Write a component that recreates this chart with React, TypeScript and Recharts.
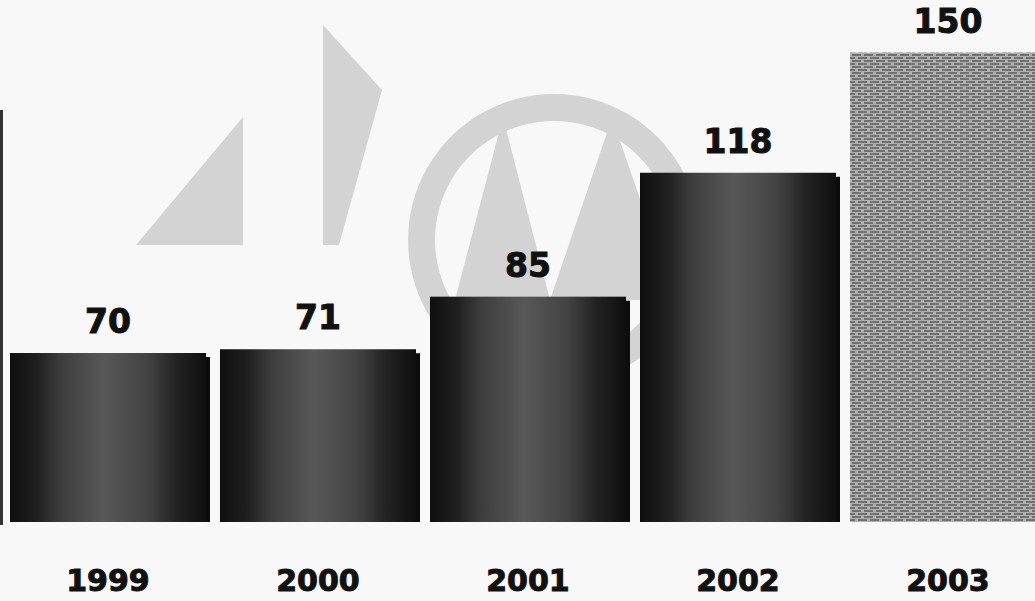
import React from 'react';
import { Bar, BarChart, LabelList, XAxis, YAxis } from 'recharts';

// yearly totals, last year is the projected one (hatched bar)
const years = ['1999', '2000', '2001', '2002', '2003'];
const values = [70, 71, 85, 118, 150];
const projected = [false, false, false, false, true];

const data = years.map((year, i) => ({ year, value: values[i], projected: projected[i] }));

const ShadowBar = (props: any) => {
  const { x, y, width, height, payload } = props;
  const fill = payload && payload.projected ? 'url(#brick)' : 'url(#darkBar)';
  return (
    <g>
      <rect x={x + 4} y={y + 4} width={width} height={height} fill="#0d0d0d" />
      <rect x={x} y={y} width={width} height={height} fill={fill} />
    </g>
  );
};

const YearTick = (props: any) => {
  const { x, y, payload } = props;
  return (
    <text
      x={x}
      y={y + 69}
      textAnchor="middle"
      fill="#111"
      stroke="#111"
      strokeWidth={1}
      fontSize={30}
      fontWeight="bold"
      fontFamily="DejaVu Sans"
    >
      {payload.value}
    </text>
  );
};

// faint logo in the background
const Watermark = () => (
  <svg width={1035} height={601} style={{ position: 'absolute', left: 0, top: 0 }}>
    <g fill="#d3d3d3">
      <polygon points="136,245 243,117 243,245" />
      <polygon points="323,25 382,90 339,245 323,245" />
      <path
        fillRule="evenodd"
        d="M554,94 a146,146 0 1,0 0.1,0 Z M554,121 a119,119 0 1,0 0.1,0 Z"
      />
      <polygon points="455,300 503,117 550,300" />
      <polygon points="550,300 612,118 675,300" />
    </g>
    <rect x={0} y={110} width={3} height={415} fill="#333" />
  </svg>
);

export default function App() {
  return (
    <div
      style={{
        position: 'absolute',
        left: 0,
        top: 0,
        width: 1035,
        height: 601,
        overflow: 'hidden',
        background: '#f8f8f8',
      }}
    >
      <Watermark />
      <div style={{ position: 'absolute', left: 0, top: 0 }}>
        <BarChart
          width={1053}
          height={601}
          data={data}
          margin={{ top: 0, right: 0, left: 3, bottom: 0 }}
          barCategoryGap={7}
        >
          <defs>
            <linearGradient id="darkBar" x1="0" y1="0" x2="1" y2="0">
              <stop offset="0%" stopColor="#0f0f0f" />
              <stop offset="14%" stopColor="#202020" />
              <stop offset="26%" stopColor="#3d3d3d" />
              <stop offset="48%" stopColor="#585858" />
              <stop offset="70%" stopColor="#434343" />
              <stop offset="85%" stopColor="#222" />
              <stop offset="100%" stopColor="#0f0f0f" />
            </linearGradient>
            <pattern id="brick" width={12} height={6} patternUnits="userSpaceOnUse">
              <rect width={12} height={6} fill="#b0b0b0" />
              <rect x={0} y={0} width={9} height={2} fill="#707070" />
              <rect x={6} y={3} width={6} height={2} fill="#707070" />
              <rect x={0} y={3} width={3} height={2} fill="#707070" />
            </pattern>
          </defs>
          <XAxis
            dataKey="year"
            axisLine={false}
            tickLine={false}
            tickSize={0}
            tickMargin={0}
            height={79}
            tick={<YearTick />}
            interval={0}
          />
          <YAxis hide domain={[25, 164]} allowDataOverflow />
          <Bar dataKey="value" shape={<ShadowBar />} isAnimationActive={false}>
            <LabelList
              dataKey="value"
              position="top"
              offset={20}
              fill="#111"
              stroke="#111"
              strokeWidth={1}
              fontSize={33}
              fontWeight="bold"
              fontFamily="DejaVu Sans"
            />
          </Bar>
        </BarChart>
      </div>
    </div>
  );
}
